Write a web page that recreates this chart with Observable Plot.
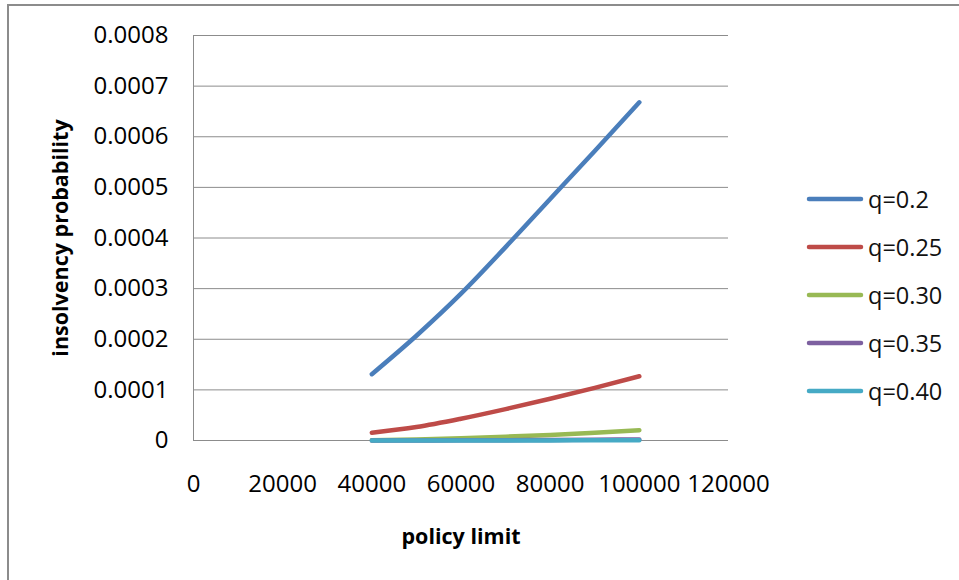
<!DOCTYPE html>
<html>
<head>
<meta charset="utf-8">
<script src="https://cdn.jsdelivr.net/npm/d3@7"></script>
<script src="https://cdn.jsdelivr.net/npm/@observablehq/plot@0.6"></script>
<style>
  html, body { margin: 0; padding: 0; background: #fff; }
  #wrap { position: relative; width: 959px; height: 580px; overflow: hidden; background: #fff; font-family: "Open Sans", sans-serif; }
  #frame { position: absolute; left: 7px; top: 4px; width: 2000px; height: 2000px; border-left: 2px solid #8c8c8c; border-top: 2px solid #8c8c8c; pointer-events: none; }
  #chart { position: absolute; left: 0; top: 0; }
  #legend { position: absolute; left: 806px; top: 175px; }
  .item { display: flex; align-items: center; height: 48px; font-size: 23.5px; color: #111; }
  .item svg { margin-right: 4px; }
  g[aria-label="y-axis label"] text, g[aria-label="x-axis label"] text { font-weight: bold; font-size: 21.5px; }
</style>
</head>
<body>
<div id="wrap">
  <div id="chart"></div>
  <div id="legend"></div>
  <div id="frame"></div>
</div>
<script>
const policyLimits = [40000, 50000, 60000, 70000, 80000, 90000, 100000];
const seriesNames = ["q=0.2", "q=0.25", "q=0.30", "q=0.35", "q=0.40"];
const seriesColors = ["#4a7ebb", "#be4b48", "#98b954", "#7d60a0", "#46aac5"];
const q020 = [0.000131, 0.000207, 0.000290, 0.000382, 0.000477, 0.000572, 0.000668];
const q025 = [0.0000153, 0.0000265, 0.000043, 0.000062, 0.0000825, 0.000104, 0.000127];
const q030 = [0.0000005, 0.000002, 0.0000045, 0.0000075, 0.000011, 0.0000155, 0.0000204];
const q035 = [0, 0.0000001, 0.0000003, 0.0000006, 0.000001, 0.0000015, 0.000002];
const q040 = [0, 0, 0.0000001, 0.0000001, 0.0000002, 0.0000003, 0.0000004];
const xTicks = [0, 20000, 40000, 60000, 80000, 100000, 120000];
const yTicks = [0, 0.0001, 0.0002, 0.0003, 0.0004, 0.0005, 0.0006, 0.0007, 0.0008];
const yTickLabels = ["0", "0.0001", "0.0002", "0.0003", "0.0004", "0.0005", "0.0006", "0.0007", "0.0008"];

const seriesValues = [q020, q025, q030, q035, q040];
const data = [];
seriesNames.forEach((name, i) => {
  policyLimits.forEach((x, j) => data.push({series: name, x, y: seriesValues[i][j]}));
});

const chart = Plot.plot({
  width: 959,
  height: 580,
  marginLeft: 193,
  marginRight: 231,
  marginTop: 35,
  marginBottom: 140,
  style: {fontFamily: "Open Sans", fontSize: "24px", color: "#000", background: "transparent"},
  x: {domain: [0, 120000]},
  y: {domain: [0, 0.0008]},
  color: {domain: seriesNames, range: seriesColors},
  marks: [
    Plot.gridY(yTicks, {stroke: "#8c8c8c", strokeOpacity: 1, strokeWidth: 1}),
    Plot.ruleX([0], {stroke: "#8c8c8c", strokeWidth: 1}),
    Plot.axisY(yTicks, {
      tickSize: 0, tickPadding: 25, fontSize: 24,
      tickFormat: (d, i) => yTickLabels[i],
      label: "insolvency probability", labelAnchor: "center", labelOffset: 141, labelArrow: "none"
    }),
    Plot.axisX(xTicks, {
      tickSize: 0, tickPadding: 34, fontSize: 24,
      tickFormat: d => String(d),
      label: "policy limit", labelAnchor: "center", labelOffset: 103, labelArrow: "none"
    }),
    Plot.line(data, {x: "x", y: "y", z: "series", stroke: "series", strokeWidth: 4.5, strokeLinecap: "round", strokeLinejoin: "round", curve: "monotone-x"})
  ]
});
document.getElementById("chart").appendChild(chart);

const legend = document.getElementById("legend");
seriesNames.forEach((name, i) => {
  const row = document.createElement("div");
  row.className = "item";
  row.innerHTML = `<svg width="58" height="8"><line x1="3" y1="4" x2="55" y2="4" stroke="${seriesColors[i]}" stroke-width="4.5" stroke-linecap="round"/></svg><span>${name}</span>`;
  legend.appendChild(row);
});
</script>
</body>
</html>
